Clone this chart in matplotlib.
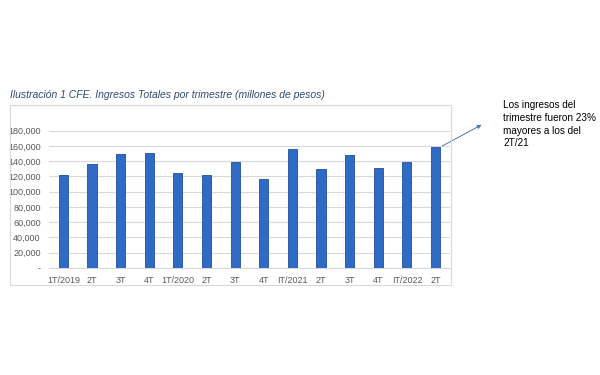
import matplotlib
matplotlib.use("Agg")
import matplotlib.pyplot as plt
from matplotlib.patches import Rectangle
from matplotlib.ticker import FuncFormatter

# quarterly total revenue, CFE (millions of pesos)
quarters = ["1T/2019", "2T", "3T", "4T", "1T/2020", "2T", "3T", "4T",
            "IT/2021", "2T", "3T", "4T", "IT/2022", "2T"]
ingresos = [121400, 136600, 149000, 150700, 124800, 121800, 138500, 116500,
            156300, 129300, 148500, 131000, 138500, 158200]
y_ticks = [0, 20000, 40000, 60000, 80000, 100000, 120000, 140000, 160000, 180000]

plt.rcParams["font.family"] = ["Liberation Sans", "DejaVu Sans"]

fig = plt.figure(figsize=(6, 3.75), dpi=100)

# light frame around the chart
fig.patches.append(Rectangle((0.0167, 0.24), 0.735, 0.48, transform=fig.transFigure,
                             fill=False, edgecolor="#d9d9d9", linewidth=0.8))

ax = fig.add_axes([0.0817, 0.286, 0.668, 0.3655])
x = range(len(quarters))
ax.bar(x, ingresos, width=0.32, color="#2f6bc4", edgecolor="#1f4f9a", linewidth=0.6, zorder=3)
ax.set_xlim(-0.5, len(quarters) - 0.5)
ax.set_ylim(0, 180000)
ax.set_yticks(y_ticks)
ax.yaxis.set_major_formatter(FuncFormatter(lambda v, p: "-" if v == 0 else f"{int(v):,}"))
ax.set_xticks(list(x))
ax.set_xticklabels(quarters)
ax.grid(axis="y", color="#d9d9d9", linewidth=0.8, zorder=0)
for s in ["top", "right", "left"]:
    ax.spines[s].set_visible(False)
ax.spines["bottom"].set_color("#d9d9d9")
ax.tick_params(length=0, labelsize=6.5, colors="#595959", pad=6)

fig.text(0.0167, 0.747, "Ilustración 1 CFE. Ingresos Totales por trimestre (millones de pesos)",
         fontsize=7.5, style="italic", color="#2f4a73", va="center")

# callout on the last bar
ax.annotate("", xy=(484 / 600, 1 - 123.5 / 375), xycoords="figure fraction",
            xytext=(13.15, ingresos[-1]), textcoords="data",
            arrowprops=dict(arrowstyle="-|>", color="#4a78b5", lw=0.7, mutation_scale=6))
fig.text(503 / 600, 1 - 100.5 / 375, "Los ingresos del\ntrimestre fueron 23%\nmayores a los del\n2T/21",
         fontsize=7.2, color="black", va="top", ha="left", linespacing=1.33)

fig.savefig("out.png", dpi=100)
